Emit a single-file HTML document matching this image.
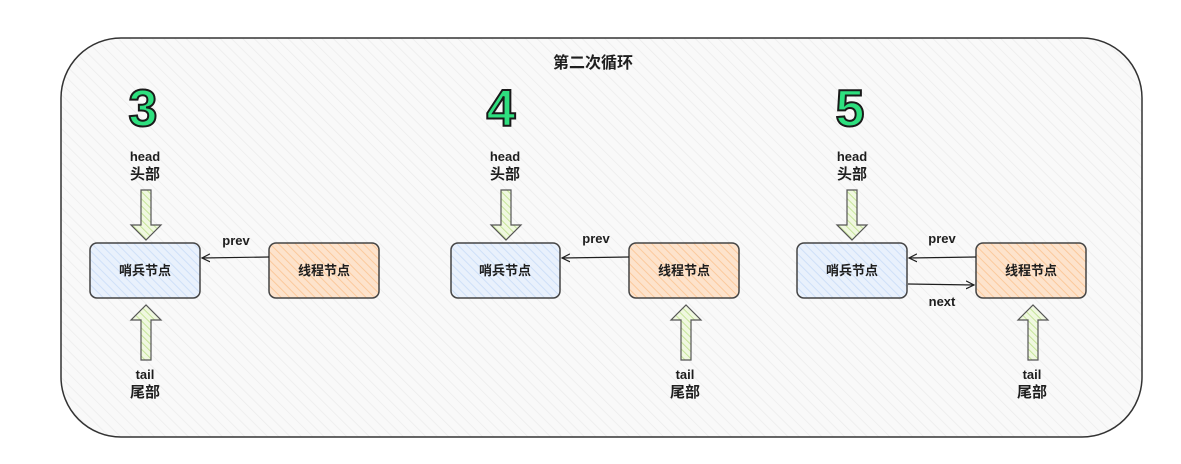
<!DOCTYPE html>
<html><head><meta charset="utf-8"><style>
html,body{margin:0;padding:0;background:#fff;}
svg{display:block;}
text{font-family:"Liberation Sans","Noto Sans CJK SC",sans-serif;font-weight:bold;fill:#1e1e1e;}
</style></head><body>
<svg width="1181" height="464" viewBox="0 0 1181 464" xmlns="http://www.w3.org/2000/svg">
<defs>
<pattern id="h" width="8" height="8" patternUnits="userSpaceOnUse" patternTransform="rotate(-45)">
<rect width="8" height="8" fill="#f9f9f9"/><line x1="0" y1="0" x2="0" y2="8" stroke="#ececec" stroke-width="1.5"/></pattern>
<pattern id="b" width="6" height="6" patternUnits="userSpaceOnUse" patternTransform="rotate(-45)">
<rect width="6" height="6" fill="#e9f1fc"/><line x1="0" y1="0" x2="0" y2="6" stroke="#cfe0f8" stroke-width="2"/></pattern>
<pattern id="o" width="6" height="6" patternUnits="userSpaceOnUse" patternTransform="rotate(-45)">
<rect width="6" height="6" fill="#fde3cc"/><line x1="0" y1="0" x2="0" y2="6" stroke="#fbc99c" stroke-width="2"/></pattern>
<pattern id="g" width="5" height="5" patternUnits="userSpaceOnUse" patternTransform="rotate(-45)">
<rect width="5" height="5" fill="#f0f8e0"/><line x1="0" y1="0" x2="0" y2="5" stroke="#c6e59a" stroke-width="2"/></pattern>
<marker id="ar" markerWidth="10" markerHeight="10" refX="8" refY="5" orient="auto" markerUnits="userSpaceOnUse">
<path d="M0,1 L8,5 L0,9" fill="none" stroke="#1e1e1e" stroke-width="1.2"/></marker>
<g id="down"><path d="M-5,0 L5,0 L5,35 L15,35 L0,50 L-15,35 L-5,35 Z" fill="url(#g)" stroke="#555" stroke-width="1.2"/></g>
<g id="up"><path d="M-5,55 L5,55 L5,15 L15,15 L0,0 L-15,15 L-5,15 Z" fill="url(#g)" stroke="#555" stroke-width="1.2"/></g>
</defs>
<rect x="61" y="38" width="1081" height="399" rx="60" fill="url(#h)" stroke="#333" stroke-width="1.5"/>
<text x="593" y="68" font-size="16" text-anchor="middle">第二次循环</text>

<g font-size="13">
<!-- panel 1 -->
<text x="143" y="126" font-size="52" text-anchor="middle" style="fill:#2ee07f;stroke:#1a1a1a;stroke-width:2">3</text>
<text x="145" y="161" text-anchor="middle">head</text>
<text x="145" y="179" font-size="15" text-anchor="middle">头部</text>
<use href="#down" x="146" y="190"/>
<rect x="90" y="243" width="110" height="55" rx="7" fill="url(#b)" stroke="#444" stroke-width="1.5"/>
<text x="145" y="275" text-anchor="middle">哨兵节点</text>
<rect x="269" y="243" width="110" height="55" rx="7" fill="url(#o)" stroke="#444" stroke-width="1.5"/>
<text x="324" y="275" text-anchor="middle">线程节点</text>
<line x1="269" y1="257" x2="202" y2="258" stroke="#1e1e1e" stroke-width="1.2" marker-end="url(#ar)"/>
<text x="236" y="245" text-anchor="middle">prev</text>
<use href="#up" x="146" y="305"/>
<text x="145" y="379" text-anchor="middle">tail</text>
<text x="145" y="397" font-size="15" text-anchor="middle">尾部</text>

<!-- panel 2 -->
<text x="501" y="126" font-size="52" text-anchor="middle" style="fill:#2ee07f;stroke:#1a1a1a;stroke-width:2">4</text>
<text x="505" y="161" text-anchor="middle">head</text>
<text x="505" y="179" font-size="15" text-anchor="middle">头部</text>
<use href="#down" x="506" y="190"/>
<rect x="451" y="243" width="109" height="55" rx="7" fill="url(#b)" stroke="#444" stroke-width="1.5"/>
<text x="505" y="275" text-anchor="middle">哨兵节点</text>
<rect x="629" y="243" width="110" height="55" rx="7" fill="url(#o)" stroke="#444" stroke-width="1.5"/>
<text x="684" y="275" text-anchor="middle">线程节点</text>
<line x1="629" y1="257" x2="562" y2="258" stroke="#1e1e1e" stroke-width="1.2" marker-end="url(#ar)"/>
<text x="596" y="243" text-anchor="middle">prev</text>
<use href="#up" x="686" y="305"/>
<text x="685" y="379" text-anchor="middle">tail</text>
<text x="685" y="397" font-size="15" text-anchor="middle">尾部</text>

<!-- panel 3 -->
<text x="850" y="126" font-size="52" text-anchor="middle" style="fill:#2ee07f;stroke:#1a1a1a;stroke-width:2">5</text>
<text x="852" y="161" text-anchor="middle">head</text>
<text x="852" y="179" font-size="15" text-anchor="middle">头部</text>
<use href="#down" x="852" y="190"/>
<rect x="797" y="243" width="110" height="55" rx="7" fill="url(#b)" stroke="#444" stroke-width="1.5"/>
<text x="852" y="275" text-anchor="middle">哨兵节点</text>
<rect x="976" y="243" width="110" height="55" rx="7" fill="url(#o)" stroke="#444" stroke-width="1.5"/>
<text x="1031" y="275" text-anchor="middle">线程节点</text>
<line x1="976" y1="257" x2="909" y2="258" stroke="#1e1e1e" stroke-width="1.2" marker-end="url(#ar)"/>
<line x1="908" y1="284" x2="974" y2="285" stroke="#1e1e1e" stroke-width="1.2" marker-end="url(#ar)"/>
<text x="942" y="243" text-anchor="middle">prev</text>
<text x="942" y="306" text-anchor="middle">next</text>
<use href="#up" x="1033" y="305"/>
<text x="1032" y="379" text-anchor="middle">tail</text>
<text x="1032" y="397" font-size="15" text-anchor="middle">尾部</text>
</g>
</svg>
</body></html>
